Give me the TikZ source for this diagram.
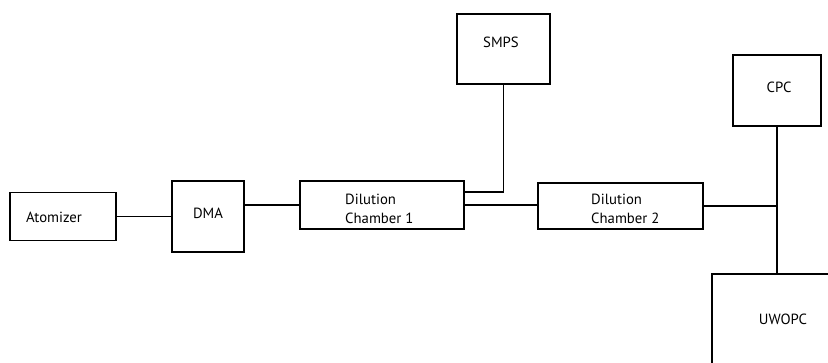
\documentclass[tikz,border=0pt]{standalone}
\usepackage{fontspec}
\setmainfont{PT Sans}
\begin{document}
\begin{tikzpicture}[x=1bp,y=-1bp,
  box/.style={draw, line width=1.6bp, rectangle, inner sep=0pt},
  lbl/.style={font=\fontsize{14.8}{19}\selectfont, align=left, inner sep=0pt},
  wire/.style={line width=1.6bp}]
\useasboundingbox (0,0) rectangle (828,362);
\clip (0,0) rectangle (828,362);
% boxes
\node[box, minimum width=106bp, minimum height=48bp] (atom) at (63,216.5) {};
\node[box, minimum width=72bp, minimum height=71bp] (dma) at (208,216.5) {};
\node[box, minimum width=164bp, minimum height=48bp] (dc1) at (382,205) {};
\node[box, minimum width=93bp, minimum height=70bp] (smps) at (503.5,49) {};
\node[box, minimum width=165bp, minimum height=46bp] (dc2) at (620.5,206) {};
\node[box, minimum width=88bp, minimum height=71bp] (cpc) at (777,90.5) {};
\node[box, minimum width=188bp, minimum height=146bp] (uwopc) at (806,347) {};
% labels
\node[lbl] (atomT) at (54,217) {Atomizer};
\node[lbl] (dmaT) at (208,213) {DMA};
\node[lbl, anchor=west] (dc1T) at (345,208.5) {Dilution\\Chamber 1};
\node[lbl] (smpsT) at (501,42) {SMPS};
\node[lbl, anchor=west] (dc2T) at (591,208.5) {Dilution\\Chamber 2};
\node[lbl] (cpcT) at (779,87) {CPC};
\node[lbl] (uwopcT) at (783,319) {UWOPC};
% connectors
\coordinate (j1) at (smps.south |- 0,192);
\draw[wire] (atom.east) -- (dma.west);
\draw[wire] (dc1.west -| dma.east) -- (dc1.west);
\draw[wire] (smps.south) -- (j1) -- (j1 -| dc1.east);
\draw[wire] (dc1.east) -- (dc1.east -| dc2.west);
\draw[wire] (dc2.east) -- (dc2.east -| cpc.south);
\draw[wire] (cpc.south) -- (cpc.south |- uwopc.north);
\end{tikzpicture}
\end{document}
